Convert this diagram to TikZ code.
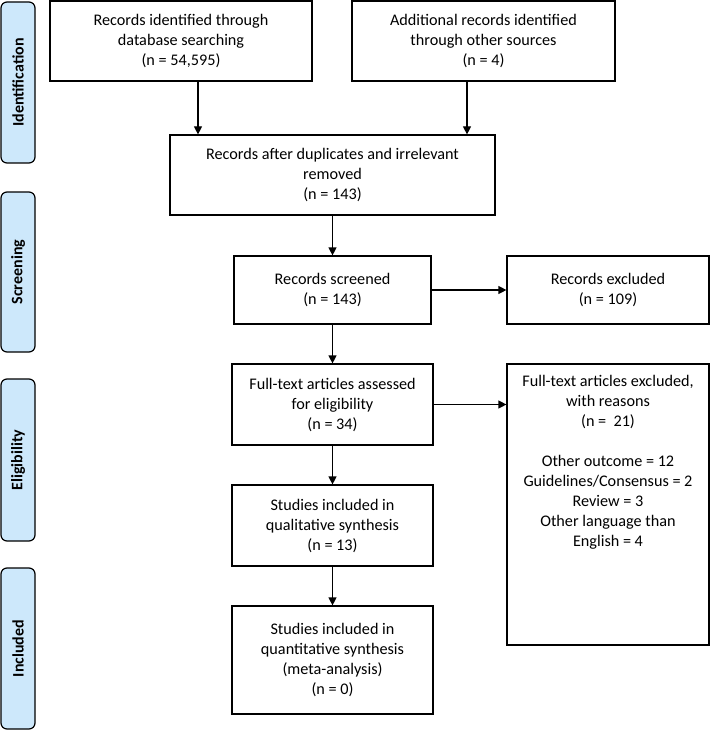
\documentclass[tikz,border=0pt]{standalone}
\usepackage{fontspec}
\setmainfont{Carlito}
\usetikzlibrary{arrows.meta}
\definecolor{sidefill}{RGB}{205,232,251}
\tikzset{
  box/.style={draw=black, line width=1.2pt, rectangle, align=center, inner sep=0pt,
    font=\fontsize{16.2}{20}\selectfont},
  side/.style={draw=black, line width=1.2pt, fill=sidefill, rounded corners=6pt,
    rotate=90, inner sep=0pt, font=\fontsize{16}{18}\selectfont\bfseries},
  arr/.style={line width=1.2pt, -{Triangle[length=8pt,width=8pt]}},
  txt/.style={align=center, inner sep=0pt, font=\fontsize{16.2}{20}\selectfont}
}
\begin{document}
\begin{tikzpicture}[x=1pt,y=-1pt]
\useasboundingbox (0,0) rectangle (710,730);
% side labels
\node[side, minimum width=161pt, minimum height=34pt] (s1) at (18,82.5) {Identification};
\node[side, minimum width=160pt, minimum height=34pt] (s2) at (18,272) {Screening};
\node[side, minimum width=162pt, minimum height=34pt] (s3) at (18,460) {Eligibility};
\node[side, minimum width=161pt, minimum height=34pt] (s4) at (18,648.5) {Included};
% boxes
\node[box, minimum width=262pt, minimum height=80pt] (b1) at (181,41) {Records identified through\\database searching\\(n = 54,595)};
\node[box, minimum width=263pt, minimum height=80pt] (b2) at (483.5,41) {Additional records identified\\through other sources\\(n = 4)};
\node[box, minimum width=325pt, minimum height=80pt] (b3) at (332.5,175) {Records after duplicates and irrelevant\\removed\\(n = 143)};
\node[box, minimum width=197pt, minimum height=68pt] (b4) at (332.5,290) {Records screened\\(n = 143)};
\node[box, minimum width=202pt, minimum height=68pt] (b5) at (608,290) {Records excluded\\(n = 109)};
\node[box, minimum width=201pt, minimum height=81pt] (b6) at (332.5,404.5) {Full-text articles assessed\\for eligibility\\(n = 34)};
\node[box, minimum width=202pt, minimum height=281pt] (b7) at (608,504.5) {};
\node[txt, anchor=north] (t7) at ([yshift=-12pt]b7.north) {Full-text articles excluded,\\with reasons\\(n = \ 21)\\[20pt]Other outcome = 12\\Guidelines/Consensus = 2\\Review = 3\\Other language than\\English = 4};
\node[box, minimum width=201pt, minimum height=81pt] (b8) at (332.5,525.5) {Studies included in\\qualitative synthesis\\(n = 13)};
\node[box, minimum width=201pt, minimum height=108pt] (b9) at (332.5,660) {Studies included in\\quantitative synthesis\\(meta-analysis)\\(n = 0)};
% arrows
\draw[arr] ([xshift=17pt]b1.south) -- ([xshift=17pt]b1.south |- b3.north);
\draw[arr] ([xshift=-16.5pt]b2.south) -- ([xshift=-16.5pt]b2.south |- b3.north);
\draw[arr] (b3.south) -- (b4.north);
\draw[arr] (b4.east) -- (b5.west);
\draw[arr] (b4.south) -- (b6.north);
\draw[arr] (b6.east) -- (b6.east -| b7.west);
\draw[arr] (b6.south) -- (b8.north);
\draw[arr] (b8.south) -- (b9.north);
\end{tikzpicture}
\end{document}
